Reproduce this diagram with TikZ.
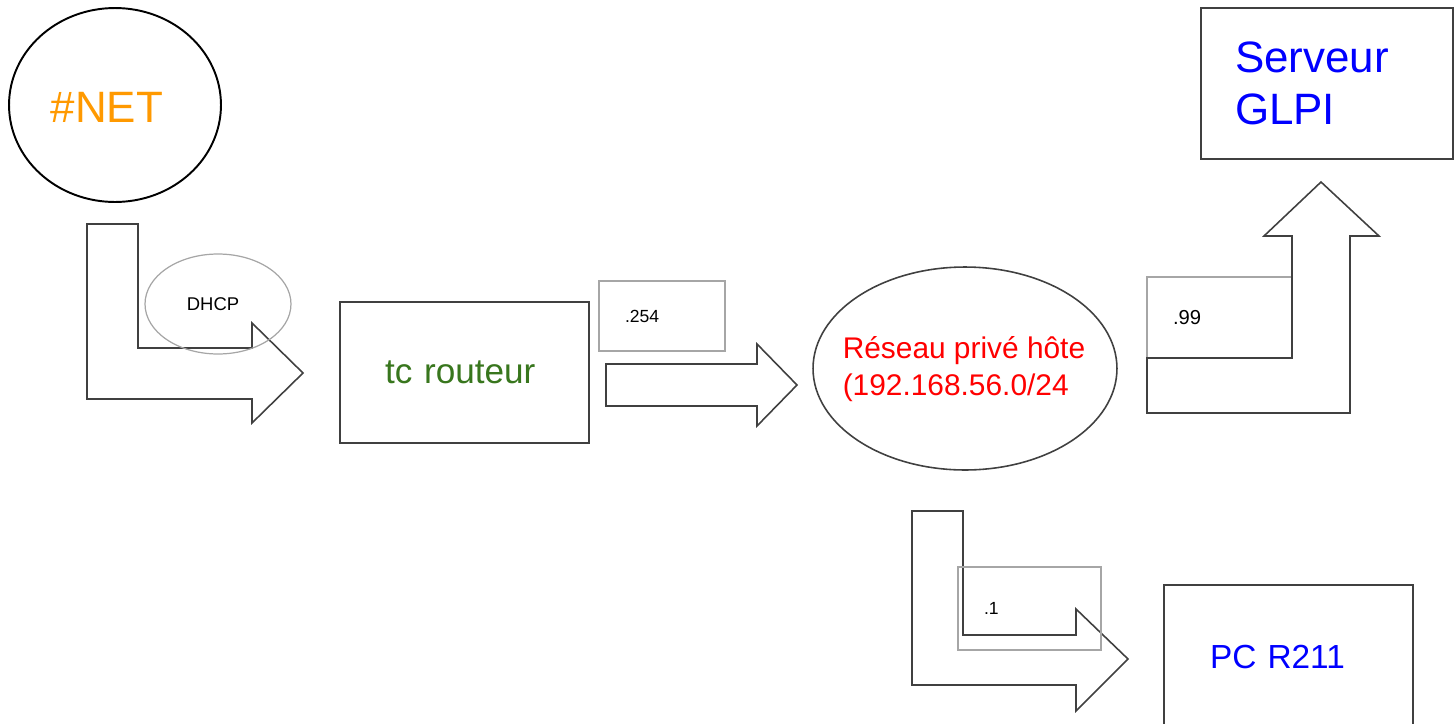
\documentclass[tikz,border=0pt]{standalone}
\usepackage{fontspec}
\setmainfont{Liberation Sans}
\usepackage{xcolor}
\usetikzlibrary{shapes.geometric,positioning}
\definecolor{netOrange}{HTML}{FF9900}
\definecolor{routerGreen}{HTML}{38761D}
\definecolor{hostBlue}{HTML}{0000FF}
\definecolor{lanRed}{HTML}{FF0000}
\newcommand{\fsz}[2]{\fontsize{#1}{#2}\selectfont}

\begin{document}
\begin{tikzpicture}[
  x=0.02cm, y=-0.02cm,
  shapeline/.style={draw=black!75,line width=0.9pt,line join=miter},
  oval/.style={ellipse,shapeline,inner sep=0pt},
  box/.style={rectangle,shapeline,align=left,inner xsep=0.9cm,inner ysep=0pt,text width=3.18cm},
  tag/.style={rectangle,draw=black!35,line width=0.8pt,align=left,inner xsep=0.52cm,inner ysep=0pt,font=\fsz{10}{12}},
  blockarr/.style={shapeline}
]
\clip (0,0) rectangle (1455,724);

\node[oval,draw=black,line width=1.1pt,minimum width=4.24cm,minimum height=3.88cm] (net) at (115,105) {};
\node[font=\fsz{25}{30},text=netOrange,inner sep=0pt] (nettxt) at (107,107) {\#NET};

\draw[blockarr] (87,224) -- (138,224) -- (138,348) -- (252,348) -- (252,323) -- (303,373) -- (252,423) -- (252,399) -- (87,399) -- cycle;
\node[ellipse,draw=black!35,line width=0.7pt,minimum width=2.92cm,minimum height=2cm,inner sep=0pt] (dhcp) at (218,304) {};
\node[font=\fsz{10.5}{12},inner sep=0pt] (dhcptxt) at (213,304) {DHCP};

\node[box,minimum height=2.82cm,font=\fsz{20}{24},text=routerGreen] (rtr) at (464.5,372.5) {tc routeur};
\node[tag,text width=1.48cm,minimum height=1.4cm] (t254) at (662,316) {.254};
\draw[blockarr] (606,364) -- (757,364) -- (757,344) -- (797,385) -- (757,426) -- (757,406) -- (606,406) -- cycle;

\node[oval,minimum width=6.08cm,minimum height=4.06cm] (lan) at (965,368.5) {};
\node[font=\fsz{17}{21},text=lanRed,align=left,inner sep=0pt] (lantxt) at (964,369) {Réseau privé hôte\\(192.168.56.0/24};

\node[tag,text width=1.86cm,minimum height=1.62cm,font=\fsz{11.5}{14}] (t99) at (1219.5,317.5) {.99};
\draw[blockarr] (1147,358) -- (1292,358) -- (1292,236) -- (1264,236) -- (1321,182) -- (1379,236) -- (1350,236) -- (1350,413) -- (1147,413) -- cycle;
\node[box,inner xsep=0.68cm,text width=3.68cm,minimum height=3.02cm,font=\fsz{25}{30},text=hostBlue] (glpi) at (1327,83.5) {Serveur\\GLPI};

\draw[blockarr] (912,511) -- (963,511) -- (963,635) -- (1076,635) -- (1076,609) -- (1128,659) -- (1076,711) -- (1076,685) -- (912,685) -- cycle;
\node[tag,text width=1.82cm,minimum height=1.66cm] (t1) at (1029.5,608.5) {.1};
\node[box,inner xsep=0.92cm,text width=3.14cm,minimum height=2.88cm,font=\fsz{19}{23},text=hostBlue] (pc) at (1288.5,657) {PC R211};
\end{tikzpicture}
\end{document}
